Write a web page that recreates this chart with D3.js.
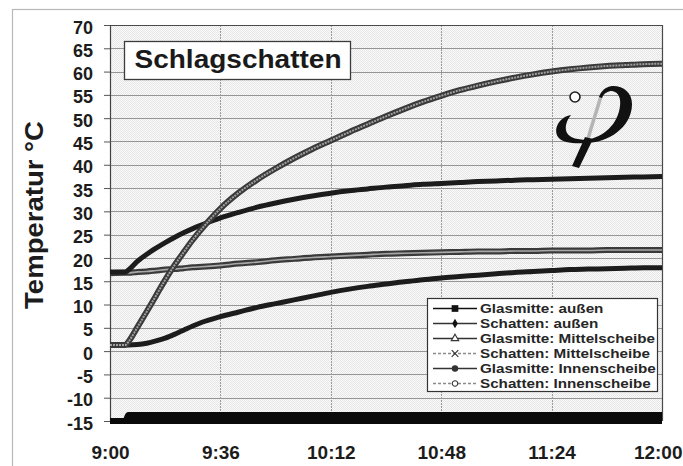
<!DOCTYPE html>
<html>
<head>
<meta charset="utf-8">
<script src="https://cdn.jsdelivr.net/npm/d3@7"></script>
<style>
  body { margin: 0; background: #fff; }
  svg { display: block; }
</style>
</head>
<body>
<svg id="chart" width="683" height="466"></svg>
<script>
// Measurement times, minutes after 9:00
const minutes = [0, 5, 6, 9, 12, 15, 18, 21, 24, 27, 30, 36, 42, 48, 54, 60, 66, 72, 78, 84,
                 90, 96, 102, 108, 114, 120, 126, 132, 138, 144, 150, 156, 162, 168, 174, 180];

// Temperatures in °C, one value per measurement time
const glasmitteAussen = [-15, -15, -13.7, -13.7, -13.7, -13.7, -13.7, -13.7, -13.7, -13.7, -13.7, -13.7,
                         -13.7, -13.7, -13.7, -13.7, -13.7, -13.7, -13.7, -13.7, -13.7, -13.7, -13.7, -13.7,
                         -13.7, -13.7, -13.7, -13.7, -13.7, -13.7, -13.7, -13.7, -13.7, -13.7, -13.7, -13.7];
const schattenAussen = [-15, -15, -15, -15, -15, -15, -15, -15, -15, -15, -15, -15,
                        -15, -15, -15, -15, -15, -15, -15, -15, -15, -15, -15, -15,
                        -15, -15, -15, -15, -15, -15, -15, -15, -15, -15, -15, -15];
const glasmitteMittel = [1.3, 1.3, 2.0, 5.2, 8.5, 11.9, 15.3, 18.4, 21.2, 23.9, 26.3, 30.6,
                         34.0, 36.8, 39.2, 41.4, 43.4, 45.2, 47.0, 48.7, 50.4, 52.0, 53.5, 54.8,
                         56.0, 57.0, 57.9, 58.7, 59.4, 60.0, 60.5, 60.9, 61.2, 61.4, 61.6, 61.7];
const schattenMittel = [1.3, 1.3, 1.3, 1.4, 1.7, 2.2, 2.8, 3.6, 4.5, 5.4, 6.2, 7.4,
                        8.4, 9.4, 10.2, 11.0, 11.8, 12.6, 13.3, 13.9, 14.4, 14.9, 15.3, 15.7,
                        16.0, 16.3, 16.6, 16.9, 17.1, 17.3, 17.5, 17.6, 17.7, 17.8, 17.9, 17.9];
const glasmitteInnen = [17.0, 17.0, 17.4, 19.3, 20.8, 22.1, 23.3, 24.4, 25.4, 26.3, 27.1, 28.6,
                        29.8, 30.9, 31.8, 32.6, 33.3, 33.9, 34.4, 34.8, 35.2, 35.5, 35.8, 36.0,
                        36.2, 36.4, 36.5, 36.7, 36.8, 36.9, 37.0, 37.1, 37.2, 37.3, 37.4, 37.5];
const schattenInnen = [16.7, 16.8, 16.8, 17.0, 17.1, 17.3, 17.5, 17.6, 17.8, 18.0, 18.1, 18.4,
                       18.8, 19.1, 19.5, 19.8, 20.1, 20.3, 20.5, 20.7, 20.9, 21.0, 21.1, 21.2,
                       21.3, 21.4, 21.4, 21.5, 21.5, 21.6, 21.6, 21.6, 21.7, 21.7, 21.7, 21.7];

const seriesNames = ["Glasmitte: außen", "Schatten: außen", "Glasmitte: Mittelscheibe",
                     "Schatten: Mittelscheibe", "Glasmitte: Innenscheibe", "Schatten: Innenscheibe"];

const xTickMinutes = [0, 36, 72, 108, 144, 180];
const xTickLabels = ["9:00", "9:36", "10:12", "10:48", "11:24", "12:00"];
const yTicks = [-15, -10, -5, 0, 5, 10, 15, 20, 25, 30, 35, 40, 45, 50, 55, 60, 65, 70];
const yTitle = "Temperatur °C";
const chartTitle = "Schlagschatten";

const FONT = "'Liberation Sans', Arial, Helvetica, sans-serif";

const svg = d3.select("#chart");
const W = 683;
const plot = { left: 110, right: 662, top: 25, bottom: 421 };

const x = d3.scaleLinear().domain([0, 180]).range([plot.left, plot.right]);
const y = d3.scaleLinear().domain([-15, 70]).range([plot.bottom, plot.top]);

// widen text slightly, as the chart's lettering runs broad
function stretch(sel, k) {
  sel.each(function () {
    const w = this.getComputedTextLength();
    this.setAttribute("textLength", (w * k).toFixed(1));
    this.setAttribute("lengthAdjust", "spacingAndGlyphs");
  });
}

// outer chart frame
svg.append("rect")
  .attr("x", 12.5).attr("y", 9.5).attr("width", 720).attr("height", 520)
  .attr("fill", "none").attr("stroke", "#b8b8b8").attr("stroke-width", 1.2);

// stippled plot-area fill
const defs = svg.append("defs");
const pat = defs.append("pattern").attr("id", "stipple")
  .attr("width", 2).attr("height", 2).attr("patternUnits", "userSpaceOnUse");
pat.append("rect").attr("width", 2).attr("height", 2).attr("fill", "#fafafa");
pat.append("rect").attr("width", 1).attr("height", 1).attr("fill", "#e6e6e6");
pat.append("rect").attr("x", 1).attr("y", 1).attr("width", 1).attr("height", 1).attr("fill", "#e6e6e6");

svg.append("rect")
  .attr("x", plot.left).attr("y", plot.top)
  .attr("width", plot.right - plot.left).attr("height", plot.bottom - plot.top)
  .attr("fill", "url(#stipple)");

// gridlines
svg.append("g").selectAll("line")
  .data(yTicks.filter(v => v > -15 && v < 70)).join("line")
  .attr("x1", plot.left).attr("x2", plot.right)
  .attr("y1", d => Math.round(y(d)) + 0.5).attr("y2", d => Math.round(y(d)) + 0.5)
  .attr("stroke", "#959595").attr("stroke-width", 1);

svg.append("g").selectAll("line")
  .data(xTickMinutes.filter(m => m > 0 && m < 180)).join("line")
  .attr("x1", d => Math.round(x(d)) + 0.5).attr("x2", d => Math.round(x(d)) + 0.5)
  .attr("y1", plot.top).attr("y2", plot.bottom)
  .attr("stroke", "#9a9a9a").attr("stroke-width", 1).attr("stroke-dasharray", "2,1");

// plot border (top and right)
svg.append("path")
  .attr("d", `M${plot.left},${plot.top + 0.5}H${plot.right + 0.5}V${plot.bottom}`)
  .attr("fill", "none").attr("stroke", "#4a4a4a").attr("stroke-width", 1.2);

// y axis
const gy = svg.append("g")
  .attr("transform", `translate(${plot.left},0)`)
  .call(d3.axisLeft(y).tickValues(yTicks).tickSize(6).tickPadding(11).tickFormat(d => String(d)));
gy.attr("font-family", FONT).attr("font-size", 18).attr("font-weight", "bold");
gy.select(".domain").attr("stroke", "#444").attr("stroke-width", 1.2);
gy.selectAll(".tick line").attr("stroke", "#555");
gy.selectAll(".tick text").attr("fill", "#1c1c1c").attr("dy", "0.45em");

// x axis labels; the last one is kept inside the page edge
const gx = svg.append("g")
  .attr("transform", `translate(0,${plot.bottom})`)
  .call(d3.axisBottom(x).tickValues(xTickMinutes).tickSize(0).tickPadding(25)
    .tickFormat((d, i) => xTickLabels[i]));
gx.attr("font-family", FONT).attr("font-size", 19).attr("font-weight", "bold");
gx.select(".domain").remove();
gx.selectAll(".tick text").attr("fill", "#1c1c1c");
gx.selectAll(".tick text").filter((d, i, n) => i === n.length - 1)
  .attr("text-anchor", "end")
  .attr("x", function (d) { return (W - 1) - x(d); });

// y axis title
const yt = svg.append("text")
  .attr("transform", "translate(43,215) rotate(-90)")
  .attr("text-anchor", "middle")
  .attr("font-family", FONT).attr("font-size", 25).attr("font-weight", "bold")
  .attr("fill", "#1c1c1c")
  .text(yTitle);
stretch(yt, 1.1);

// series
const line = d3.line()
  .x((d, i) => x(minutes[i]))
  .y(d => y(d))
  .curve(d3.curveMonotoneX);

const gSeries = svg.append("g").attr("fill", "none")
  .attr("stroke-linejoin", "round").attr("stroke-linecap", "butt");

// outer pane: heavy black traces along the bottom
gSeries.append("path").attr("d", line(schattenAussen))
  .attr("stroke", "#0a0a0a").attr("stroke-width", 6);
gSeries.append("path").attr("d", line(glasmitteAussen))
  .attr("stroke", "#0a0a0a").attr("stroke-width", 6);

// shaded middle pane
gSeries.append("path").attr("d", line(schattenMittel))
  .attr("stroke", "#1c1c1c").attr("stroke-width", 5);

// shaded inner pane: hollow-marker trace drawn as a tube
gSeries.append("path").attr("d", line(schattenInnen))
  .attr("stroke", "#3a3a3a").attr("stroke-width", 6);
gSeries.append("path").attr("d", line(schattenInnen))
  .attr("stroke", "#a8a8a8").attr("stroke-width", 1.6);

// inner pane, glass centre
gSeries.append("path").attr("d", line(glasmitteInnen))
  .attr("stroke", "#1c1c1c").attr("stroke-width", 5);

// middle pane, glass centre: hollow-marker tube
gSeries.append("path").attr("d", line(glasmitteMittel))
  .attr("stroke", "#3a3a3a").attr("stroke-width", 6);
gSeries.append("path").attr("d", line(glasmitteMittel))
  .attr("stroke", "#a0a0a0").attr("stroke-width", 2).attr("stroke-dasharray", "2,1");

// title box
svg.append("rect")
  .attr("x", 124.5).attr("y", 41.5).attr("width", 226).attr("height", 38)
  .attr("fill", "#fff").attr("stroke", "#3c3c3c").attr("stroke-width", 1.3);
const tt = svg.append("text")
  .attr("x", 238).attr("y", 68).attr("text-anchor", "middle")
  .attr("font-family", FONT).attr("font-size", 25).attr("font-weight", "bold")
  .attr("fill", "#1a1a1a")
  .text(chartTitle);
stretch(tt, 1.12);

// phi emblem with a small ring
const emblem = svg.append("g");
// faint inner stroke of the bowl
emblem.append("path")
  .attr("d", "M601,96 C597,110 592,124 588,139")
  .attr("fill", "none").attr("stroke", "#b4b4b4").attr("stroke-width", 3.5);
// left hook: a heavy crescent
emblem.append("path")
  .attr("d", "M571,115 C559,117 553,129 558,137 C562,143 574,144 589,143 " +
             "L589,140 C578,140 570,138 567,133 C564,127 567,120 571,115 Z")
  .attr("fill", "#111");
// bowl: heavy on the right, thin across the top
emblem.append("path")
  .attr("d", "M586,143 C607,143 632,128 632,104 C632,93 624,86 613,86 C606,86 601,91 599,97 " +
             "L602,98 C604,93 608,91 612,91 C619,92 621,99 620,106 C618,124 604,137 586,140 Z")
  .attr("fill", "#111");
// descender
emblem.append("path")
  .attr("d", "M585,137 L593,139 L579,168 L572,166 Z")
  .attr("fill", "#111");
// ring
emblem.append("circle")
  .attr("cx", 575).attr("cy", 97).attr("r", 5)
  .attr("fill", "#fff").attr("stroke", "#222").attr("stroke-width", 1.6);

// legend
const legend = svg.append("g");
legend.append("rect")
  .attr("x", 427.5).attr("y", 298.5).attr("width", 230).attr("height", 93)
  .attr("fill", "#fff").attr("stroke", "#333").attr("stroke-width", 1.2);

const legendStyles = [
  { stroke: "#111", dash: null, symbol: d3.symbolSquare, size: 45, fill: "#111" },
  { stroke: "#333", dash: null, symbol: d3.symbolDiamond, size: 26, fill: "#111" },
  { stroke: "#333", dash: null, symbol: d3.symbolTriangle, size: 24, fill: "#fff" },
  { stroke: "#8a8a8a", dash: "3,2", symbol: d3.symbolTimes || d3.symbolCross, size: 30, fill: "none" },
  { stroke: "#333", dash: null, symbol: d3.symbolCircle, size: 22, fill: "#333" },
  { stroke: "#8a8a8a", dash: "3,2", symbol: d3.symbolCircle, size: 24, fill: "#fff" }
];

const rows = legend.selectAll("g.row").data(seriesNames).join("g")
  .attr("class", "row")
  .attr("transform", (d, i) => `translate(0,${308.5 + i * 15})`);
rows.append("line")
  .attr("x1", 433).attr("x2", 477).attr("y1", 0).attr("y2", 0)
  .attr("stroke", (d, i) => legendStyles[i].stroke)
  .attr("stroke-width", 1.6)
  .attr("stroke-dasharray", (d, i) => legendStyles[i].dash);
rows.append("path")
  .attr("transform", "translate(455,0)")
  .attr("d", (d, i) => d3.symbol(legendStyles[i].symbol, legendStyles[i].size)())
  .attr("fill", (d, i) => legendStyles[i].fill)
  .attr("stroke", (d, i) => i === 0 || i === 1 ? "none" : "#333")
  .attr("stroke-width", 1.1);
const lt = rows.append("text")
  .attr("x", 480).attr("y", 0).attr("dy", "0.36em")
  .attr("font-family", FONT).attr("font-size", 13).attr("font-weight", "bold")
  .attr("fill", "#262626")
  .text(d => d);
stretch(lt, 1.17);
</script>
</body>
</html>
